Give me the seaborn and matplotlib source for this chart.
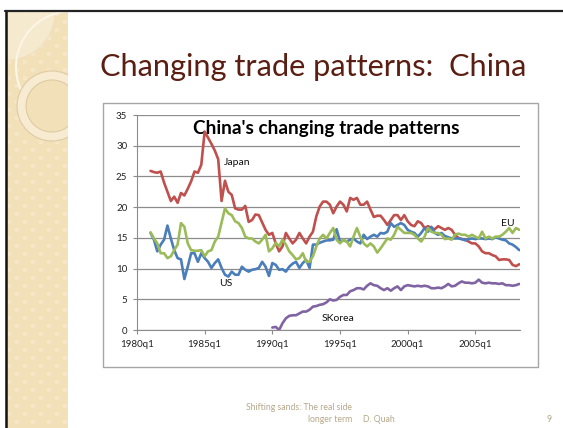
import numpy as np
import pandas as pd
import matplotlib
matplotlib.use("Agg")
import matplotlib.pyplot as plt
import seaborn as sns
from matplotlib.patches import Rectangle, Circle

# Datos trimestrales (participación %), Japón/US/EU desde 1981q1, SKorea desde 1990q1
japan = [25.9, 25.7, 25.6, 25.8, 24.0, 22.5, 21.0, 21.7, 20.7, 22.3,
         21.9, 23.0, 24.2, 25.8, 25.6, 26.9, 32.3, 31.3, 30.3, 29.2,
         27.8, 21.0, 24.3, 22.5, 22.0, 19.8, 19.6, 19.6, 20.2, 17.6,
         17.9, 18.8, 18.7, 17.5, 16.3, 15.5, 15.8, 14.1, 12.8, 13.6,
         15.8, 14.9, 14.1, 14.7, 15.8, 14.9, 14.1, 15.2, 16.0, 18.5,
         20.1, 20.9, 20.9, 20.4, 19.0, 20.1, 20.9, 20.4, 19.3, 21.5,
         21.2, 21.5, 20.4, 20.4, 20.9, 19.6, 18.4, 18.6, 18.6, 17.9,
         17.1, 17.9, 18.7, 18.7, 17.9, 18.7, 17.7, 17.1, 16.9, 17.7,
         17.4, 16.6, 16.9, 16.6, 16.4, 16.9, 16.6, 16.3, 16.6, 16.3,
         15.5, 15.0, 14.8, 14.7, 14.4, 14.1, 14.1, 13.6, 12.8, 12.5,
         12.5, 12.2, 12.0, 11.4, 11.5, 11.5, 11.4, 10.6, 10.4, 10.7]
us = [15.8, 14.7, 12.8, 13.9, 14.7, 17.0, 14.9, 13.0, 11.7, 11.5,
      8.3, 10.3, 12.5, 12.5, 11.1, 12.5, 11.7, 11.1, 10.1, 10.9,
      11.5, 10.1, 9.0, 8.7, 9.5, 9.0, 9.0, 10.3, 9.8, 9.5,
      9.8, 9.9, 10.1, 11.1, 10.3, 8.8, 10.9, 10.6, 9.8, 9.9,
      9.5, 10.3, 10.8, 11.1, 10.1, 10.9, 11.4, 10.1, 13.9, 13.9,
      14.2, 14.4, 14.6, 14.6, 14.7, 16.4, 14.4, 14.6, 14.4, 14.7,
      14.9, 14.4, 14.1, 15.5, 14.8, 15.2, 15.5, 15.2, 15.8, 15.7,
      16.0, 17.4, 16.8, 17.1, 17.4, 17.1, 16.3, 16.0, 15.8, 15.2,
      15.8, 16.6, 16.0, 16.8, 15.8, 15.5, 15.8, 15.3, 15.1, 14.9,
      14.9, 14.9, 14.8, 14.6, 14.8, 14.9, 14.8, 14.9, 14.9, 14.8,
      14.9, 14.8, 15.1, 14.9, 14.7, 14.6, 14.1, 13.9, 13.5, 13.0]
eu = [15.9, 14.9, 14.1, 12.5, 12.5, 11.7, 12.0, 13.0, 13.9, 17.4,
      16.8, 14.1, 13.0, 12.9, 12.9, 13.0, 12.0, 12.8, 13.0, 14.4,
      15.2, 17.5, 19.8, 19.0, 18.7, 17.7, 17.4, 16.6, 15.2, 14.9,
      14.9, 14.4, 14.1, 14.7, 15.5, 12.8, 13.3, 14.2, 13.6, 14.7,
      13.9, 12.8, 12.2, 11.5, 11.7, 12.5, 11.1, 11.1, 12.0, 13.6,
      14.9, 15.5, 14.9, 15.8, 16.6, 14.7, 14.1, 14.7, 14.4, 13.6,
      15.2, 16.6, 15.2, 14.1, 13.6, 14.1, 13.6, 12.6, 13.3, 14.1,
      14.9, 14.7, 15.5, 16.8, 16.3, 15.8, 15.8, 15.8, 15.5, 14.9,
      14.4, 15.2, 16.6, 16.0, 15.8, 15.8, 15.5, 14.8, 14.9, 14.7,
      15.5, 15.7, 15.5, 15.5, 15.2, 15.5, 15.2, 14.9, 16.0, 14.9,
      15.2, 14.9, 15.2, 15.2, 15.5, 16.0, 16.6, 15.8, 16.6, 16.3]
skorea = [0.4, 0.5, 0.0, 1.1, 1.9, 2.3, 2.4, 2.4, 2.7, 3.0,
          3.0, 3.3, 3.8, 3.9, 4.1, 4.2, 4.5, 5.0, 4.8, 4.9,
          5.4, 5.7, 5.7, 6.3, 6.5, 6.8, 6.8, 6.6, 7.2, 7.6,
          7.3, 7.2, 6.8, 6.5, 6.8, 6.4, 6.8, 7.1, 6.5, 7.1,
          7.3, 7.2, 7.1, 7.2, 7.1, 7.2, 7.1, 6.8, 6.8, 6.9,
          6.8, 7.1, 7.5, 7.1, 7.2, 7.6, 7.9, 7.7, 7.7, 7.6,
          7.7, 8.2, 7.7, 7.6, 7.7, 7.6, 7.6, 7.5, 7.6, 7.3,
          7.3, 7.2, 7.3, 7.5]

series = {"Japan": (1981, japan), "US": (1981, us), "EU": (1981, eu), "SKorea": (1990, skorea)}
colores = {"Japan": "#C0504D", "US": "#4A7EBB", "EU": "#9BBB59", "SKorea": "#8064A2"}

ticks = [1980, 1985, 1990, 1995, 2000, 2005]
tick_labels = ["1980q1", "1985q1", "1990q1", "1995q1", "2000q1", "2005q1"]

frames = []
for nombre, (inicio, valores) in series.items():
    frames.append(pd.DataFrame({"year": inicio + np.arange(len(valores)) / 4,
                                "share": valores, "country": nombre}))
df = pd.concat(frames, ignore_index=True)

sns.set_style("white")
plt.rcParams["font.family"] = ["Lato", "DejaVu Sans"]

W, H = 563, 428
fig = plt.figure(figsize=(W / 100, H / 100), dpi=100)

# Fondo de la diapositiva (coordenadas en pixeles)
bg = fig.add_axes([0, 0, 1, 1])
bg.set_xlim(0, W)
bg.set_ylim(H, 0)
bg.axis("off")
franja = Rectangle((7, 12), 61, H - 12, color="#f2e0b9", lw=0)
bg.add_patch(franja)
for yy in range(12, H, 8):
    for xx in range(7, 67, 8):
        if ((xx + yy) // 8) % 2 == 0:
            bg.add_patch(Rectangle((xx, yy), 4, 4, color="#f5e6c5", lw=0))
# adornos circulares, recortados a la franja
adornos = [Circle((7, 12), 48, fc="#f7ecd4", ec="#efe0c0", lw=0.8, alpha=0.8),
           Circle((72, 67), 56, fill=False, ec="#fcf6e8", lw=1.5),
           Circle((52, 106), 35, fc="#f7ebd2", ec="#e0cba2", lw=0.8),
           Circle((52, 106), 26, fc="#f2e0b9", ec="#e0cba2", lw=0.8)]
for c in adornos:
    bg.add_patch(c)
    c.set_clip_path(franja)
bg.plot([6, 6], [11, H], color="#111111", lw=1.8)
bg.plot([5, W], [11, 11], color="#222222", lw=1.6)
bg.add_patch(Rectangle((103, 103), 435, 264, fill=False, ec="#a6a6a6", lw=1))

titulo = bg.text(100, 67, "Changing trade patterns:  China", fontsize=24,
                 color="#5a1e12", va="center", ha="left")
pie = dict(fontsize=6.2, color="#b5a78a", va="center")
bg.text(352, 408, "Shifting sands: The real side", ha="right", **pie)
bg.text(352, 420, "longer term", ha="right", **pie)
bg.text(363, 420, "D. Quah", ha="left", **pie)
bg.text(552, 420, "9", ha="right", **pie)

# Grafico
ax = fig.add_axes([137 / W, 1 - 330 / H, (520 - 137) / W, (330 - 115) / H])
ax.set_facecolor("none")
sns.lineplot(data=df, x="year", y="share", hue="country", palette=colores,
             linewidth=1.9, legend=False, ax=ax)
ax.set_xlim(1980, 2008.3)
ax.set_ylim(0, 35)
ax.set_yticks(range(0, 36, 5))
ax.set_xticks(ticks)
ax.set_xticklabels(tick_labels)
ax.yaxis.grid(True, color="#8c8c8c", lw=0.9)
ax.set_axisbelow(True)
for s in ["top", "right"]:
    ax.spines[s].set_visible(False)
for s in ["left", "bottom"]:
    ax.spines[s].set_color("#8c8c8c")
ax.tick_params(axis="both", length=3, color="#8c8c8c", labelsize=7, pad=4,
               labelcolor="#222222", direction="out", bottom=True, left=True)
ax.set_xlabel("")
ax.set_ylabel("")

etiquetas = {"Japan": (1986.4, 27.2), "US": (1986.05, 7.6),
             "SKorea": (1993.65, 1.95), "EU": (2006.9, 17.3)}
for nombre, (xx, yy) in etiquetas.items():
    ax.text(xx, yy, nombre, fontsize=7.5, color="#111111", va="center", ha="left")

sub = bg.text(326, 128, "China's changing trade patterns", fontsize=13,
              fontweight="bold", color="black", ha="center", va="center")

# Ajustar ancho de los titulos
fig.canvas.draw()
r = fig.canvas.get_renderer()
for t, ancho in [(titulo, 428), (sub, 266)]:
    w = t.get_window_extent(r).width
    t.set_fontsize(t.get_fontsize() * ancho / w)

fig.savefig("out.png", dpi=100)
